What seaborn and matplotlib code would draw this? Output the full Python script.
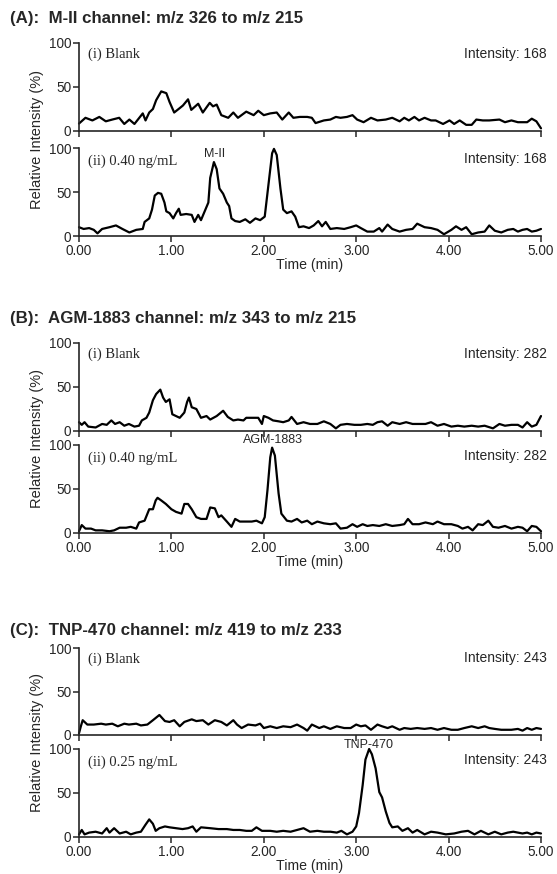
import matplotlib
matplotlib.use("Agg")
import matplotlib.pyplot as plt
import seaborn as sns

# ---------------- data (time in min, relative intensity in %) ----------------
t_a1 = [0.00, 0.07, 0.145, 0.22, 0.29, 0.36, 0.435, 0.49, 0.545, 0.60, 0.69, 0.72, 0.76, 0.80, 0.835, 0.89,
        0.945, 0.98, 1.03, 1.09, 1.125, 1.18, 1.215, 1.29, 1.34, 1.415, 1.45, 1.49, 1.54, 1.615, 1.67, 1.72,
        1.81, 1.89, 1.94, 2.00, 2.07, 2.14, 2.20, 2.27, 2.32, 2.39, 2.47, 2.52, 2.56, 2.65, 2.72, 2.78, 2.83,
        2.90, 2.96, 3.01, 3.08, 3.16, 3.23, 3.32, 3.39, 3.47, 3.52, 3.57, 3.63, 3.68, 3.74, 3.81, 3.86, 3.94,
        4.01, 4.06, 4.12, 4.19, 4.25, 4.30, 4.37, 4.44, 4.55, 4.61, 4.68, 4.75, 4.85, 4.90, 4.95, 5.00]
v_a1 = [8.5, 15, 12, 16, 11, 13, 15, 8, 13, 8, 20, 12, 21, 25, 35, 45,
        43, 33, 21, 26, 29, 36, 24, 31, 21, 32, 28, 30, 18, 15, 21, 15,
        22, 18, 23, 18, 20, 21, 13, 21, 15, 16, 16, 15, 9, 12, 13, 16, 15,
        16, 18, 13, 10, 15, 12, 13, 15, 11, 15, 12, 16, 12, 15, 12, 12, 8,
        12, 8, 12, 7, 7, 13, 12, 12, 13, 10, 12, 10, 10, 14, 11, 3]

t_a2 = [0.00, 0.05, 0.11, 0.16, 0.20, 0.25, 0.33, 0.40, 0.47, 0.545, 0.62, 0.69, 0.71, 0.76, 0.79, 0.82,
        0.855, 0.89, 0.925, 0.945, 0.98, 1.02, 1.05, 1.08, 1.10, 1.16, 1.22, 1.25, 1.29, 1.32, 1.36, 1.40,
        1.42, 1.46, 1.49, 1.52, 1.56, 1.60, 1.625, 1.65, 1.69, 1.74, 1.80, 1.85, 1.91, 1.96, 2.01, 2.05,
        2.09, 2.11, 2.14, 2.18, 2.21, 2.25, 2.30, 2.34, 2.38, 2.43, 2.49, 2.54, 2.59, 2.63, 2.67, 2.72,
        2.79, 2.87, 2.94, 3.00, 3.05, 3.12, 3.19, 3.25, 3.28, 3.34, 3.39, 3.47, 3.54, 3.61, 3.66, 3.74,
        3.81, 3.88, 3.95, 4.03, 4.08, 4.14, 4.19, 4.25, 4.32, 4.39, 4.44, 4.50, 4.57, 4.64, 4.70, 4.75,
        4.80, 4.85, 4.90, 4.95, 5.00]
v_a2 = [10, 8, 9, 7, 3, 8, 10, 12, 8, 4, 7, 8, 16, 20, 30, 46,
        49, 48, 38, 28, 26, 20, 26, 31, 24, 25, 24, 16, 24, 18, 28, 38,
        66, 84, 76, 54, 48, 38, 34, 20, 17, 16, 19, 15, 20, 18, 22, 58,
        94, 99, 92, 54, 30, 26, 28, 22, 10, 11, 9, 12, 17, 11, 16, 8,
        9, 8, 10, 12, 9, 5, 5, 9, 5, 13, 8, 5, 7, 8, 14, 10,
        9, 7, 2, 7, 11, 7, 10, 2, 4, 5, 12, 6, 4, 7, 8, 5,
        7, 8, 5, 6, 8]

t_b1 = [0.00, 0.03, 0.06, 0.10, 0.18, 0.25, 0.30, 0.35, 0.39, 0.44, 0.49, 0.54, 0.60, 0.65, 0.68, 0.73,
        0.76, 0.80, 0.835, 0.88, 0.91, 0.94, 0.98, 1.01, 1.05, 1.09, 1.14, 1.17, 1.19, 1.22, 1.27, 1.32,
        1.38, 1.42, 1.49, 1.56, 1.61, 1.67, 1.72, 1.78, 1.81, 1.87, 1.94, 1.98, 2.00, 2.05, 2.10, 2.16,
        2.21, 2.27, 2.30, 2.36, 2.43, 2.50, 2.58, 2.65, 2.72, 2.78, 2.83, 2.90, 2.98, 3.05, 3.12, 3.18,
        3.23, 3.28, 3.34, 3.39, 3.47, 3.54, 3.61, 3.68, 3.75, 3.81, 3.88, 3.95, 4.03, 4.10, 4.17, 4.25,
        4.32, 4.39, 4.48, 4.55, 4.61, 4.68, 4.75, 4.80, 4.85, 4.90, 4.95, 5.00]
v_b1 = [10, 7, 10, 5, 4, 8, 7, 12, 8, 10, 6, 8, 5, 6, 12, 15,
        21, 35, 42, 47, 38, 33, 36, 19, 17, 15, 21, 33, 38, 27, 25, 15,
        17, 13, 17, 23, 16, 12, 13, 12, 15, 15, 15, 8, 17, 15, 12, 11,
        10, 12, 16, 8, 10, 8, 8, 11, 8, 3, 7, 8, 7, 7, 8, 7,
        10, 11, 6, 10, 8, 10, 8, 8, 8, 10, 6, 8, 5, 6, 5, 6,
        5, 6, 3, 8, 6, 7, 7, 4, 10, 5, 7, 17]

t_b2 = [0.00, 0.03, 0.07, 0.13, 0.18, 0.25, 0.33, 0.38, 0.44, 0.51, 0.56, 0.62, 0.65, 0.71, 0.76, 0.80,
        0.83, 0.85, 0.89, 0.94, 1.00, 1.05, 1.11, 1.14, 1.18, 1.22, 1.27, 1.32, 1.38, 1.42, 1.47, 1.51,
        1.54, 1.60, 1.65, 1.69, 1.74, 1.80, 1.87, 1.92, 1.98, 2.01, 2.04, 2.07, 2.09, 2.12, 2.16, 2.19,
        2.25, 2.30, 2.36, 2.41, 2.47, 2.52, 2.58, 2.65, 2.72, 2.78, 2.83, 2.90, 2.96, 3.01, 3.07, 3.12,
        3.18, 3.25, 3.32, 3.39, 3.47, 3.52, 3.56, 3.61, 3.68, 3.75, 3.83, 3.88, 3.95, 4.03, 4.10, 4.15,
        4.21, 4.26, 4.32, 4.37, 4.43, 4.48, 4.54, 4.61, 4.68, 4.75, 4.80, 4.85, 4.90, 4.95, 5.00]
v_b2 = [2, 9, 5, 5, 3, 3, 2, 3, 6, 6, 7, 5, 12, 14, 27, 27,
        37, 40, 37, 33, 27, 24, 22, 33, 33, 27, 18, 16, 16, 29, 28, 18,
        20, 13, 7, 16, 13, 13, 13, 14, 11, 18, 49, 86, 97, 88, 45, 22,
        14, 13, 16, 12, 14, 10, 13, 11, 10, 11, 5, 6, 10, 7, 10, 8,
        9, 8, 10, 8, 9, 10, 16, 10, 10, 12, 10, 13, 10, 10, 8, 5,
        7, 3, 10, 9, 14, 7, 6, 8, 5, 7, 6, 2, 8, 7, 2]

t_c1 = [0.00, 0.02, 0.04, 0.09, 0.16, 0.24, 0.29, 0.36, 0.42, 0.49, 0.54, 0.62, 0.67, 0.74, 0.80, 0.87,
        0.93, 0.98, 1.03, 1.09, 1.14, 1.22, 1.27, 1.34, 1.40, 1.47, 1.54, 1.60, 1.67, 1.71, 1.76, 1.83,
        1.91, 1.96, 2.00, 2.07, 2.14, 2.21, 2.29, 2.36, 2.43, 2.47, 2.52, 2.60, 2.65, 2.72, 2.79, 2.87,
        2.94, 3.00, 3.05, 3.10, 3.16, 3.23, 3.28, 3.34, 3.39, 3.47, 3.52, 3.59, 3.66, 3.74, 3.81, 3.88,
        3.95, 4.03, 4.10, 4.17, 4.25, 4.32, 4.39, 4.44, 4.50, 4.57, 4.68, 4.75, 4.80, 4.85, 4.90, 4.95, 5.00]
v_c1 = [2, 10, 17, 12, 12, 13, 12, 13, 10, 13, 12, 13, 11, 12, 17, 23,
        16, 15, 17, 10, 15, 18, 16, 17, 12, 17, 15, 11, 17, 12, 8, 12,
        11, 13, 8, 10, 8, 10, 9, 12, 8, 5, 12, 8, 10, 7, 10, 8,
        8, 12, 10, 11, 6, 12, 10, 8, 10, 6, 8, 7, 8, 7, 8, 6,
        8, 6, 6, 8, 10, 8, 10, 8, 7, 6, 6, 7, 5, 8, 6, 8, 7]

t_c2 = [0.00, 0.03, 0.06, 0.11, 0.18, 0.25, 0.30, 0.33, 0.38, 0.44, 0.51, 0.56, 0.62, 0.67, 0.72, 0.76,
        0.80, 0.83, 0.87, 0.93, 0.98, 1.05, 1.12, 1.18, 1.23, 1.27, 1.32, 1.42, 1.51, 1.60, 1.67, 1.74,
        1.81, 1.87, 1.92, 1.98, 2.07, 2.14, 2.21, 2.29, 2.36, 2.43, 2.50, 2.58, 2.65, 2.72, 2.79, 2.84,
        2.90, 2.96, 3.00, 3.03, 3.07, 3.10, 3.14, 3.17, 3.21, 3.25, 3.28, 3.32, 3.36, 3.39, 3.45, 3.50,
        3.56, 3.61, 3.66, 3.74, 3.81, 3.88, 3.97, 4.06, 4.14, 4.21, 4.28, 4.35, 4.43, 4.50, 4.57, 4.64,
        4.70, 4.80, 4.85, 4.90, 4.95, 5.00]
v_c2 = [3, 8, 3, 5, 6, 4, 10, 5, 10, 4, 6, 3, 5, 6, 14, 20,
        15, 7, 10, 12, 11, 10, 9, 10, 12, 6, 11, 10, 9, 9, 8, 8,
        7, 7, 11, 7, 7, 6, 7, 6, 8, 10, 6, 7, 6, 6, 5, 7,
        3, 6, 12, 27, 59, 88, 100, 94, 78, 51, 45, 29, 16, 11, 12, 7,
        10, 5, 8, 3, 6, 5, 3, 4, 6, 7, 3, 7, 3, 6, 3, 5,
        6, 4, 5, 3, 5, 4]

panel_titles = ["(A):  M-II channel: m/z 326 to m/z 215",
                "(B):  AGM-1883 channel: m/z 343 to m/z 215",
                "(C):  TNP-470 channel: m/z 419 to m/z 233"]
upper_labels = ["(i) Blank", "(i) Blank", "(i) Blank"]
lower_labels = ["(ii) 0.40 ng/mL", "(ii) 0.40 ng/mL", "(ii) 0.25 ng/mL"]
intensities = [168, 282, 243]
peak_names = ["M-II", "AGM-1883", "TNP-470"]
peak_pos = [(1.47, 86), (2.10, 99), (3.14, 98)]
x_ticks = [0, 1, 2, 3, 4, 5]
x_ticklabels = ["0.00", "1.00", "2.00", "3.00", "4.00", "5.00"]
y_ticks = [0, 50, 100]

traces = [((t_a1, v_a1), (t_a2, v_a2)),
          ((t_b1, v_b1), (t_b2, v_b2)),
          ((t_c1, v_c1), (t_c2, v_c2))]

# ---------------- layout ----------------
sns.set_style("ticks")
plt.rcParams["font.family"] = ["Liberation Sans", "DejaVu Sans"]

W, H = 557, 874
fig = plt.figure(figsize=(W / 100, H / 100), dpi=100)

def fy(py):
    return 1 - py / H

left_px, right_px = 79, 541
# (top_px, bottom_px) of each axes
boxes = [((43, 131), (148, 236)),
         ((343, 431), (445, 533)),
         ((648, 735), (749, 837))]
title_y = [18, 318, 630]

serif = ["Liberation Serif", "DejaVu Serif"]

for p in range(3):
    fig.text(10 / W, fy(title_y[p]), panel_titles[p], fontsize=12.2,
             fontweight="bold", va="center", ha="left")
    for k in range(2):
        top, bot = boxes[p][k]
        ax = fig.add_axes([left_px / W, fy(bot), (right_px - left_px) / W, (bot - top) / H])
        t, v = traces[p][k]
        sns.lineplot(x=t, y=v, ax=ax, color="black", linewidth=1.6, clip_on=False)
        ax.set_xlim(0, 5)
        ax.set_ylim(0, 100)
        ax.set_yticks(y_ticks)
        ax.set_yticklabels([str(y) for y in y_ticks], fontsize=9.8)
        ax.set_xticks(x_ticks)
        sns.despine(ax=ax)
        for s in ("left", "bottom"):
            ax.spines[s].set_linewidth(1.2)
        ax.tick_params(axis="both", direction="out", length=4, width=1.1, pad=1.5)
        if k == 0:
            ax.set_xticklabels([])
            ax.text(0.10, 87, upper_labels[p], family=serif, fontsize=10.5, va="center", ha="left")
        else:
            ax.set_xticklabels(x_ticklabels, fontsize=9.8)
            ax.set_xlabel("Time (min)", fontsize=10.2, labelpad=0)
            ax.text(0.10, 85, lower_labels[p], family=serif, fontsize=10.5, va="center", ha="left")
            px, py = peak_pos[p]
            ax.text(px, py, peak_names[p], fontsize=9, ha="center", va="bottom")
        ax.text(1.013, 0.88, f"Intensity: {intensities[p]}", transform=ax.transAxes,
                fontsize=10, ha="right", va="center")
        ax.set_ylabel("")
    ymid = (boxes[p][0][0] + boxes[p][1][1]) / 2
    fig.text(37 / W, fy(ymid), "Relative Intensity (%)", rotation=90,
             fontsize=10.5, ha="center", va="center")

fig.savefig("out.png", dpi=100)
